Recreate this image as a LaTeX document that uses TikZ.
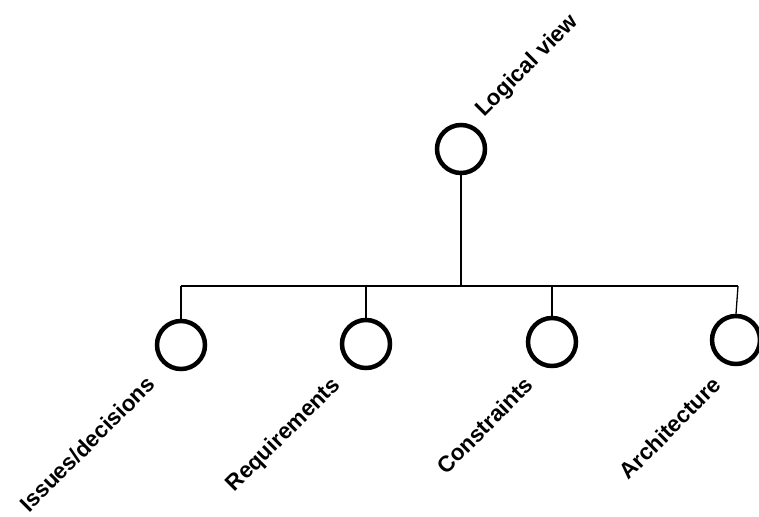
\documentclass[tikz,border=0pt]{standalone}
\usepackage{fontspec}
\setmainfont{Liberation Sans}
\begin{document}
\begin{tikzpicture}[x=1pt,y=-1pt,
  cnode/.style={circle,draw,line width=4.5pt,minimum size=48pt,inner sep=0pt},
  conn/.style={line width=1.3pt},
  lbl/.style={rotate=45,font=\fontsize{22.5}{22.5}\selectfont\bfseries,inner sep=0pt}]
\useasboundingbox (0,0) rectangle (759,516);
\node[cnode] (top) at (461,149) {};
\node[cnode] (c1) at (181,345) {};
\node[cnode] (c2) at (366,344) {};
\node[cnode] (c3) at (552,342) {};
\node[cnode] (c4) at (736,340) {};
\coordinate (bt) at (461,286);
\coordinate (b1) at (181,286);
\coordinate (b2) at (366,286);
\coordinate (b3) at (552,286);
\coordinate (b4) at (738,286);
\draw[conn] (top.south) -- (bt);
\draw[conn] (b1) -- (b4);
\draw[conn] (b1) -- (c1.north);
\draw[conn] (b2) -- (c2.north);
\draw[conn] (b3) -- (c3.north);
\draw[conn] (b4) -- (c4.north);
\node[lbl,anchor=west] (ltop) at (480,114) {Logical view};
\node[lbl,anchor=east] (l1) at (151,380) {Issues/decisions};
\node[lbl,anchor=east] (l2) at (337,382) {Requirements};
\node[lbl,anchor=east] (l3) at (529,381) {Constraints};
\node[lbl,anchor=east] (l4) at (717,381) {Architecture};
\end{tikzpicture}
\end{document}
